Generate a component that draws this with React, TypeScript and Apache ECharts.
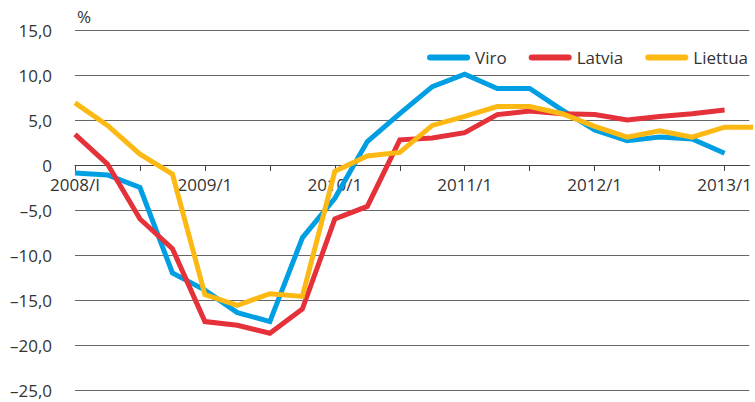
import React, { useEffect, useRef } from "react";
import * as echarts from "echarts";

const quarterLabels = ["2008/I", "2009/1", "2010/1", "2011/1", "2012/1", "2013/1"];
const viro = [-0.9, -1.1, -2.5, -12.0, -13.9, -16.4, -17.4, -8.1, -3.7, 2.6, 5.7, 8.7, 10.1, 8.5, 8.5, 6.1, 3.9, 2.7, 3.1, 2.9, 1.3];
const latvia = [3.4, 0.1, -6.0, -9.3, -17.4, -17.8, -18.7, -16.0, -6.0, -4.6, 2.8, 3.0, 3.6, 5.6, 6.0, 5.7, 5.6, 5.0, 5.4, 5.7, 6.1];
const liettua = [6.9, 4.4, 1.2, -1.0, -14.4, -15.6, -14.3, -14.6, -0.7, 1.0, 1.4, 4.4, 5.4, 6.5, 6.5, 5.7, 4.3, 3.1, 3.8, 3.1, 4.2, 4.2];
const seriesNames = ["Viro", "Latvia", "Liettua"];
const colors = ["#009fe3", "#e4313a", "#fdb913"];

const FONT = "'Open Sans', 'Noto Sans', sans-serif";
const TXT = "#333333";

export default function App() {
  const ref = useRef<HTMLDivElement>(null);
  useEffect(() => {
    if (!ref.current) return;
    const chart = echarts.init(ref.current, undefined, { renderer: "svg" });
    const toPairs = (arr: number[]) => arr.map((v, i) => [i, v]);
    const icon = "path://M3,0 H40 A3,3 0 0 1 40,6 H3 A3,3 0 0 1 3,0 Z";
    const gridTop = 30;
    const gridBottom = 12;
    const plotH = 402 - gridTop - gridBottom;
    const yMin = -25;
    const yMax = 15;
    const zeroOffset = -(plotH * (0 - yMin)) / (yMax - yMin);
    chart.setOption({
      animation: false,
      textStyle: { fontFamily: FONT },
      grid: { left: 75, right: 0, top: gridTop, bottom: gridBottom, containLabel: false },
      legend: {
        right: 2,
        top: 44,
        itemGap: 22,
        itemWidth: 43,
        itemHeight: 6,
        icon,
        textStyle: { fontSize: 17, color: TXT, fontFamily: FONT },
        data: seriesNames,
      },
      graphic: [
        {
          type: "text",
          left: 77,
          top: 8,
          style: { text: "%", fontSize: 17, fill: TXT, fontFamily: FONT },
        },
      ],
      xAxis: {
        type: "value",
        position: "bottom",
        offset: zeroOffset,
        min: 0,
        max: 20.76,
        interval: 2,
        axisLine: { onZero: false, lineStyle: { color: "#444", width: 1 } },
        axisTick: { show: true, length: 6, lineStyle: { color: "#444" } },
        splitLine: { show: false },
        axisLabel: {
          margin: 11,
          fontSize: 17,
          color: TXT,
          fontFamily: FONT,
          showMaxLabel: false,
          formatter: (v: number) =>
            Number.isInteger(v) && v % 4 === 0 ? quarterLabels[v / 4] ?? "" : "",
        },
      },
      yAxis: {
        type: "value",
        min: yMin,
        max: yMax,
        interval: 5,
        axisLine: { show: false, onZero: false },
        axisTick: { show: false },
        splitLine: { lineStyle: { color: "#666666", width: 1 } },
        axisLabel: {
          margin: 23,
          fontSize: 17,
          color: TXT,
          fontFamily: FONT,
          formatter: (v: number) =>
            v === 0 ? "0" : v.toFixed(1).replace(".", ",").replace("-", "–"),
        },
      },
      series: [viro, latvia, liettua].map((arr, k) => ({
        name: seriesNames[k],
        type: "line",
        data: toPairs(arr),
        symbol: "none",
        clip: true,
        lineStyle: { color: colors[k], width: 5, join: "miter" },
        itemStyle: { color: colors[k] },
        z: 3 + k,
      })),
    });
    return () => chart.dispose();
  }, []);
  return (
    <div
      ref={ref}
      style={{ position: "fixed", left: 0, top: 0, width: 755, height: 402, background: "#fff" }}
    />
  );
}
